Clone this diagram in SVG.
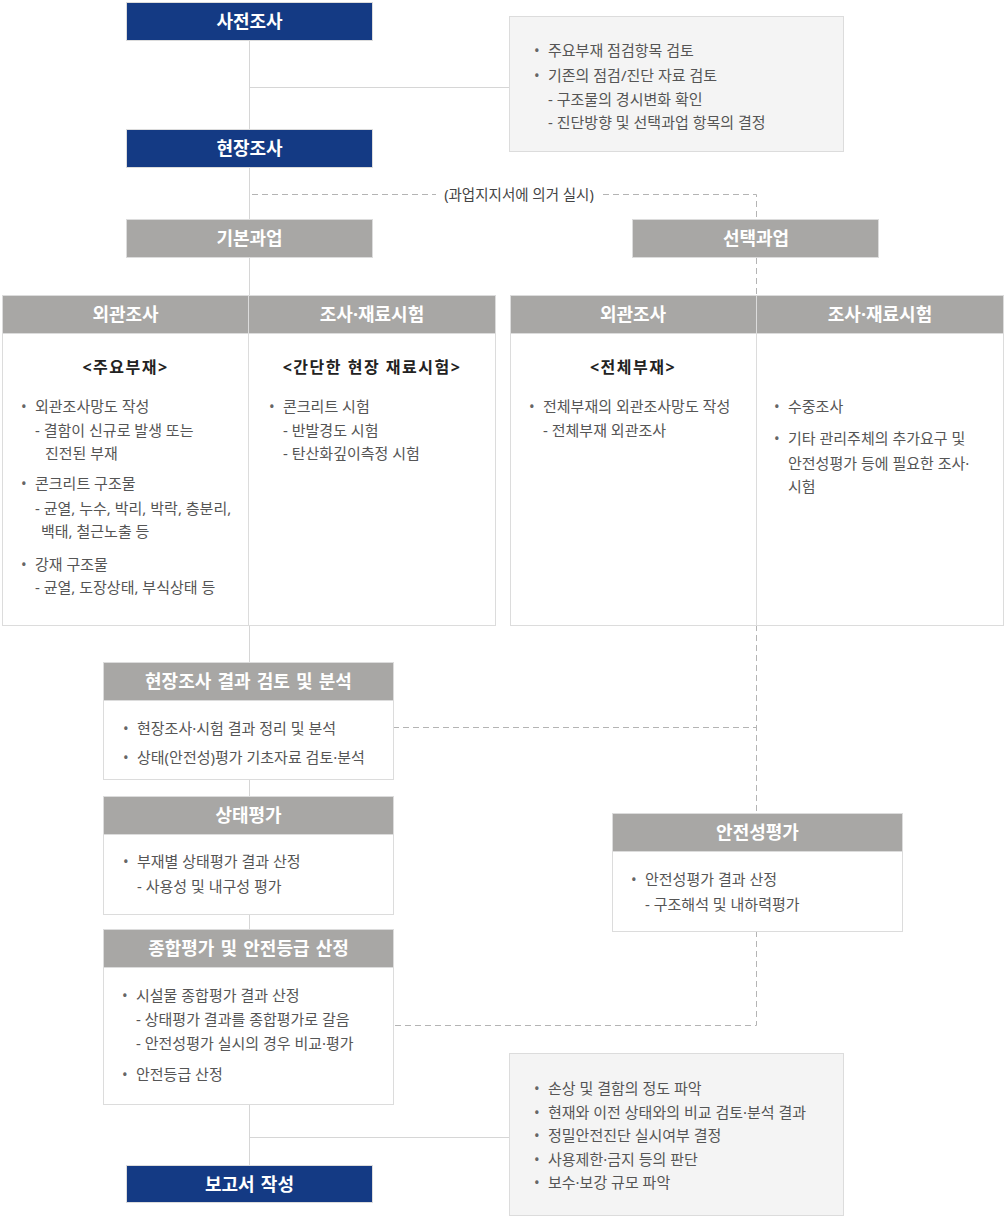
<svg xmlns="http://www.w3.org/2000/svg" width="1005" height="1218" viewBox="0 0 1005 1218">
<style>
text{font-family:"Noto Sans","Noto Sans CJK KR",sans-serif}
.bg{fill:#ffffff}
.blue{fill:#143a84;stroke:#dcdcdc;stroke-width:1}
.gray{fill:#a8a7a5;stroke:#dcdcdc;stroke-width:1}
.box{fill:#ffffff;stroke:#dcdcdc;stroke-width:1}
.info{fill:#f4f4f4;stroke:#dcdcdc;stroke-width:1}
.h{fill:#ffffff;font-size:18px;font-weight:700;text-anchor:middle;word-spacing:1.5px}
.t{fill:#555555;font-size:15px}
.b{fill:#666666;font-size:15px}
.sub{fill:#222222;font-size:16px;font-weight:700;text-anchor:middle;letter-spacing:1.5px}
.ln{stroke:#d6d6d6;stroke-width:1;fill:none}
.dl{stroke:#b4b4b4;stroke-width:1;fill:none;stroke-dasharray:6 4}
.lbl{fill:#444444;font-size:14.5px;text-anchor:middle}
</style>
<rect class="bg" x="0" y="0" width="1005" height="1218"/>

<g id="connectors">
<path class="ln" d="M249.5 40 V129 M249.5 87.5 H509"/>
<path class="ln" d="M249.5 167 V219 M249.5 258 V295"/>
<path class="ln" d="M249.5 625 V662 M249.5 779 V796 M249.5 914 V929 M249.5 1104 V1165 M249.5 1137.5 H509"/>
<path class="dl" d="M252 194.5 H436 M603 194.5 H756.5 V219"/>
<path class="dl" d="M756.5 258 V295"/>
<path class="dl" d="M756.5 625 V813 M393 727.5 H756.5"/>
<path class="dl" d="M756.5 931 V1025.5 H393"/>
<text class="lbl" x="519" y="199.5">(과업지지서에 의거 실시)</text>
</g>

<g id="n-pre">
<rect class="blue" x="126.5" y="2.5" width="246" height="38"/>
<text class="h" x="249.5" y="28">사전조사</text>
</g>

<g id="n-info1">
<rect class="info" x="509.5" y="16.5" width="334" height="135"/>
<text class="b" x="534" y="56">•</text><text class="t" x="548" y="56">주요부재 점검항목 검토</text>
<text class="b" x="534" y="81">•</text><text class="t" x="548" y="81">기존의 점검/진단 자료 검토</text>
<text class="t" x="548" y="105">- 구조물의 경시변화 확인</text>
<text class="t" x="548" y="128">- 진단방향 및 선택과업 항목의 결정</text>
</g>

<g id="n-field">
<rect class="blue" x="126.5" y="129.5" width="246" height="38"/>
<text class="h" x="249.5" y="155">현장조사</text>
</g>

<g id="n-basic">
<rect class="gray" x="126.5" y="219.5" width="246" height="38"/>
<text class="h" x="249.5" y="245">기본과업</text>
</g>

<g id="n-select">
<rect class="gray" x="632.5" y="219.5" width="246" height="38"/>
<text class="h" x="756" y="245">선택과업</text>
</g>

<g id="n-basic-visual">
<rect class="box" x="2.5" y="295.5" width="246" height="330"/>
<rect class="gray" x="2.5" y="295.5" width="246" height="38"/>
<text class="h" x="125.5" y="321">외관조사</text>
<text class="sub" x="125.5" y="373">&lt;주요부재&gt;</text>
<text class="b" x="21" y="412">•</text><text class="t" x="35" y="412">외관조사망도 작성</text>
<text class="t" x="35" y="436">- 결함이 신규로 발생 또는</text>
<text class="t" x="45" y="459">진전된 부재</text>
<text class="b" x="21" y="489">•</text><text class="t" x="35" y="489">콘크리트 구조물</text>
<text class="t" x="35" y="514">- 균열, 누수, 박리, 박락, 층분리,</text>
<text class="t" x="41" y="537">백태, 철근노출 등</text>
<text class="b" x="21" y="570">•</text><text class="t" x="35" y="570">강재 구조물</text>
<text class="t" x="35" y="593">- 균열, 도장상태, 부식상태 등</text>
</g>

<g id="n-basic-test">
<rect class="box" x="248.5" y="295.5" width="247" height="330"/>
<rect class="gray" x="248.5" y="295.5" width="247" height="38"/>
<text class="h" x="372" y="321">조사·재료시험</text>
<text class="sub" x="372" y="373">&lt;간단한 현장 재료시험&gt;</text>
<text class="b" x="269" y="412">•</text><text class="t" x="283" y="412">콘크리트 시험</text>
<text class="t" x="283" y="436">- 반발경도 시험</text>
<text class="t" x="283" y="459">- 탄산화깊이측정 시험</text>
</g>

<g id="n-sel-visual">
<rect class="box" x="510.5" y="295.5" width="246" height="330"/>
<rect class="gray" x="510.5" y="295.5" width="246" height="38"/>
<text class="h" x="633" y="321">외관조사</text>
<text class="sub" x="633" y="373">&lt;전체부재&gt;</text>
<text class="b" x="529" y="412">•</text><text class="t" x="543" y="412">전체부재의 외관조사망도 작성</text>
<text class="t" x="543" y="436">- 전체부재 외관조사</text>
</g>

<g id="n-sel-test">
<rect class="box" x="756.5" y="295.5" width="247" height="330"/>
<rect class="gray" x="756.5" y="295.5" width="247" height="38"/>
<text class="h" x="880" y="321">조사·재료시험</text>
<text class="b" x="774" y="412">•</text><text class="t" x="788" y="412">수중조사</text>
<text class="b" x="774" y="444">•</text><text class="t" x="788" y="444">기타 관리주체의 추가요구 및</text>
<text class="t" x="788" y="469">안전성평가 등에 필요한 조사·</text>
<text class="t" x="788" y="492">시험</text>
</g>

<g id="n-review">
<rect class="box" x="103.5" y="662.5" width="290" height="117"/>
<rect class="gray" x="103.5" y="662.5" width="290" height="38"/>
<text class="h" x="248.5" y="688">현장조사 결과 검토 및 분석</text>
<text class="b" x="123" y="734">•</text><text class="t" x="137" y="734">현장조사·시험 결과 정리 및 분석</text>
<text class="b" x="123" y="763">•</text><text class="t" x="137" y="763">상태(안전성)평가 기초자료 검토·분석</text>
</g>

<g id="n-state">
<rect class="box" x="103.5" y="796.5" width="290" height="118"/>
<rect class="gray" x="103.5" y="796.5" width="290" height="38"/>
<text class="h" x="248.5" y="822">상태평가</text>
<text class="b" x="123" y="867">•</text><text class="t" x="137" y="867">부재별 상태평가 결과 산정</text>
<text class="t" x="137" y="892">- 사용성 및 내구성 평가</text>
</g>

<g id="n-safety">
<rect class="box" x="612.5" y="813.5" width="290" height="118"/>
<rect class="gray" x="612.5" y="813.5" width="290" height="38"/>
<text class="h" x="757.5" y="839">안전성평가</text>
<text class="b" x="631" y="885">•</text><text class="t" x="645" y="885">안전성평가 결과 산정</text>
<text class="t" x="645" y="910">- 구조해석 및 내하력평가</text>
</g>

<g id="n-total">
<rect class="box" x="103.5" y="929.5" width="290" height="175"/>
<rect class="gray" x="103.5" y="929.5" width="290" height="38"/>
<text class="h" x="248.5" y="955">종합평가 및 안전등급 산정</text>
<text class="b" x="122" y="1001">•</text><text class="t" x="136" y="1001">시설물 종합평가 결과 산정</text>
<text class="t" x="136" y="1025">- 상태평가 결과를 종합평가로 갈음</text>
<text class="t" x="136" y="1049">- 안전성평가 실시의 경우 비교·평가</text>
<text class="b" x="122" y="1080">•</text><text class="t" x="136" y="1080">안전등급 산정</text>
</g>

<g id="n-info2">
<rect class="info" x="509.5" y="1053.5" width="334" height="162"/>
<text class="b" x="534" y="1094">•</text><text class="t" x="548" y="1094">손상 및 결함의 정도 파악</text>
<text class="b" x="534" y="1118">•</text><text class="t" x="548" y="1118">현재와 이전 상태와의 비교 검토·분석 결과</text>
<text class="b" x="534" y="1141">•</text><text class="t" x="548" y="1141">정밀안전진단 실시여부 결정</text>
<text class="b" x="534" y="1165">•</text><text class="t" x="548" y="1165">사용제한·금지 등의 판단</text>
<text class="b" x="534" y="1188">•</text><text class="t" x="548" y="1188">보수·보강 규모 파악</text>
</g>

<g id="n-report">
<rect class="blue" x="126.5" y="1165.5" width="246" height="37"/>
<text class="h" x="249.5" y="1190.5">보고서 작성</text>
</g>
</svg>
